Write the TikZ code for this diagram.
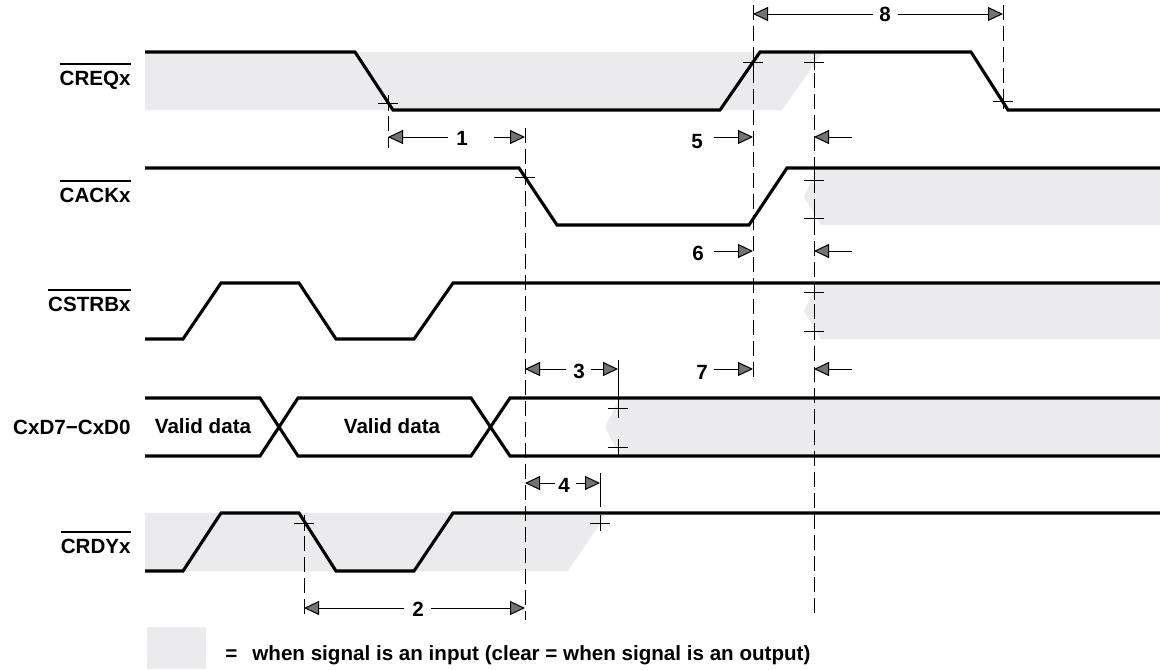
\documentclass[tikz,border=0pt]{standalone}
\usepackage{fontspec}
\setmainfont{Liberation Sans}
\usetikzlibrary{arrows.meta}
\definecolor{shadegray}{RGB}{235,235,237}
\newcommand\ovlabel[1]{\vbox{\hrule height 1pt\kern 2.8pt\hbox{#1}}}
\tikzset{
  sig/.style={line width=1.55pt},
  vdash/.style={line width=0.5pt, dash pattern=on 7.5pt off 3pt},
  dimline/.style={line width=0.5pt},
  dimarr/.style={dimline, -{Triangle[length=7.5pt,width=7pt,fill=black!55,line width=0.5pt]}},
  txt/.style={font=\fontsize{10.3}{12}\selectfont\bfseries, inner sep=0pt},
  lbl/.style={txt, anchor=base east},
  num/.style={txt, anchor=center},
  tickmark/.pic={\draw[line width=0.5pt] (-10,0)--(10,0) (0,-8)--(0,8);},
  inshade/.style={fill=shadegray, draw=none}
}
\begin{document}
\begin{tikzpicture}[x=0.5pt,y=-0.5pt]
\useasboundingbox (0,0) rectangle (1160,669);
% shaded regions (signal is an input)
\path[inshade] (145,52)--(823,52)--(782,110)--(145,110)--cycle;
\path[inshade] (817,168)--(1160,168)--(1160,225)--(821,225)--(804,197)--cycle;
\path[inshade] (817,283)--(1160,283)--(1160,339)--(821,339)--(804,311)--cycle;
\path[inshade] (620,398)--(1160,398)--(1160,456)--(620,456)--(605,427)--cycle;
\path[inshade] (145,513)--(607,513)--(568,571)--(145,571)--cycle;
\path[inshade] (147,627) rectangle (206,669);
% labels
\node[lbl] (creq) at (131,85) {\ovlabel{CREQx}};
\node[lbl] (cack) at (131,202) {\ovlabel{CACKx}};
\node[lbl] (cstrb) at (131,311) {\ovlabel{CSTRBx}};
\node[lbl] (cxd) at (131,434) {CxD7−CxD0};
\node[lbl] (crdy) at (131,553) {\ovlabel{CRDYx}};
\node[txt, anchor=base] (vd1) at (203,433) {Valid data};
\node[txt, anchor=base] (vd2) at (392,433) {Valid data};
\node[txt, anchor=base west] (legend) at (225,660) {=\hspace{0.45em} when signal is an input (clear = when signal is an output)};
% signals
\draw[sig] (145,52)--(355,52)--(393,110)--(720,110)--(760,52)--(971,52)--(1008,110)--(1160,110);
\draw[sig] (145,168)--(519,168)--(557,225)--(749,225)--(787,168)--(1160,168);
\draw[sig] (145,339)--(183,339)--(221,283)--(299,283)--(336,339)--(414,339)--(453,283)--(1160,283);
\draw[sig] (145,398)--(260,398)--(298,456)--(471,456)--(510,398)--(1160,398);
\draw[sig] (145,456)--(260,456)--(298,398)--(471,398)--(510,456)--(1160,456);
\draw[sig] (145,571)--(183,571)--(221,513)--(299,513)--(336,571)--(414,571)--(453,513)--(1160,513);
% dashed reference lines
\draw[vdash] (388,95)--(388,148);
\draw[vdash] (525,128)--(525,620);
\draw[vdash] (753,5)--(753,378);
\draw[vdash] (814,52)--(814,617);
\draw[vdash] (1003,5)--(1003,110);
\draw[vdash] (304,515)--(304,620);
\draw[dimline] (618,360)--(618,418);
\draw[dimline] (600,473)--(600,507);
% tick marks
\foreach \p in {(388,103),(753,62),(814,62),(1003,101),(525,177),(814,180),(814,218),(814,292),(814,331),(618,408),(618,447),(600,523),(304,523)}
  \pic at \p {tickmark};
% timing numbers
\node[num] (n1) at (462,138) {1};
\node[num] (n2) at (418,609) {2};
\node[num] (n3) at (579,371) {3};
\node[num] (n4) at (564,485) {4};
\node[num] (n5) at (697,142) {5};
\node[num] (n6) at (698,253) {6};
\node[num] (n7) at (702,372) {7};
\node[num] (n8) at (885,14) {8};
% dimension arrows
\draw[dimarr] (448,137)--(388,137);
\draw[dimarr] (494,137)--(525,137);
\draw[dimarr] (404,608)--(304,608);
\draw[dimarr] (431,608)--(525,608);
\draw[dimarr] (566,369)--(525,369);
\draw[dimarr] (591,369)--(618,369);
\draw[dimarr] (555,483)--(525,483);
\draw[dimarr] (576,483)--(600,483);
\foreach \yy in {137,251,369}{
  \draw[dimarr] (714,\yy)--(753,\yy);
  \draw[dimarr] (852,\yy)--(814,\yy);
}
\draw[dimarr] (873,14)--(753,14);
\draw[dimarr] (898,14)--(1003,14);
\end{tikzpicture}
\end{document}
